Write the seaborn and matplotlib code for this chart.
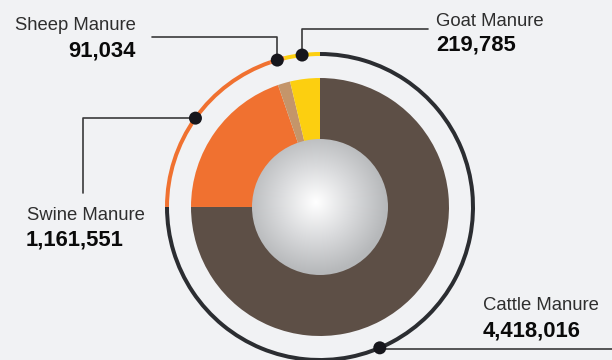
import numpy as np
import matplotlib
matplotlib.use("Agg")
import matplotlib.pyplot as plt
import seaborn as sns
from matplotlib.patches import Wedge, Circle
from matplotlib.colors import LinearSegmentedColormap
from matplotlib import font_manager

# --- data ---
categories = ["Cattle Manure", "Swine Manure", "Sheep Manure", "Goat Manure"]
values = [4418016, 1161551, 91034, 219785]
value_labels = ["4,418,016", "1,161,551", "91,034", "219,785"]

# --- style ---
BG = "#f1f2f4"
PALETTE = {
    "Cattle Manure": "#5d4f46",
    "Swine Manure": "#f07130",
    "Sheep Manure": "#c4956a",
    "Goat Manure": "#fccf10",
}
RING = {
    "Cattle Manure": "#2b2d31",
    "Swine Manure": "#f07130",
    "Sheep Manure": "#f07130",
    "Goat Manure": "#fccf10",
}

sns.set_style("white")
names = {f.name for f in font_manager.fontManager.ttflist}
FONT = "Liberation Sans Narrow" if "Liberation Sans Narrow" in names else "Liberation Sans"
plt.rcParams["font.family"] = [FONT, "DejaVu Sans"]

fig = plt.figure(figsize=(6.12, 3.6), dpi=100, facecolor=BG)
ax = fig.add_axes([0, 0, 1, 1])
ax.set_facecolor(BG)

cx, cy = 320, 153
R_PIE, R_HOLE, R_RING = 129, 68, 153

colors = [PALETTE[c] for c in categories]
ax.pie(values, colors=colors, startangle=90, counterclock=False,
       center=(cx, cy), radius=R_PIE, frame=True,
       wedgeprops=dict(linewidth=0))
ax.set_xlim(0, 612)
ax.set_ylim(0, 360)
ax.set_aspect("equal")
ax.axis("off")

# gradient sphere in the middle
n = 400
xs = np.linspace(-1, 1, n)
X, Y = np.meshgrid(xs, xs)
d = np.sqrt((X + 0.06) ** 2 + (Y + 0.07) ** 2)
img = np.clip(d / 1.05, 0, 1)
cmap = LinearSegmentedColormap.from_list("sph", ["#ffffff", "#dadbdd", "#b6b8ba"])
im = ax.imshow(img, cmap=cmap, extent=(cx - R_HOLE, cx + R_HOLE, cy - R_HOLE, cy + R_HOLE),
               origin="upper", zorder=3, interpolation="bilinear")
im.set_clip_path(Circle((cx, cy), R_HOLE, transform=ax.transData))

# outer ring segments, following the slices
total = float(sum(values))
start = 90.0
mids = {}
for cat, v in zip(categories, values):
    span = 360.0 * v / total
    end = start - span
    ax.add_patch(Wedge((cx, cy), R_RING + 2, end, start, width=4,
                       facecolor=RING[cat], edgecolor="none", zorder=2))
    mids[cat] = (start + end) / 2
    start = end

# cattle marker sits lower right rather than at the slice middle
mids["Cattle Manure"] = -67

LINE = "#3a3a3a"
def dot(ang):
    a = np.deg2rad(ang)
    x, y = cx + R_RING * np.cos(a), cy + R_RING * np.sin(a)
    ax.add_patch(Circle((x, y), 6.5, facecolor="#16161c", edgecolor="none", zorder=5))
    return x, y

# Sheep
x, y = dot(mids["Sheep Manure"])
ax.plot([x, x, 152], [y, 323, 323], color=LINE, lw=1.2, zorder=4)
# Goat
x, y = dot(mids["Goat Manure"])
ax.plot([x, x, 428], [y, 331, 331], color=LINE, lw=1.2, zorder=4)
# Swine
x, y = dot(mids["Swine Manure"])
ax.plot([x, 83, 83], [y, y, 167], color=LINE, lw=1.2, zorder=4)
# Cattle
x, y = dot(mids["Cattle Manure"])
ax.plot([x, 612], [y - 1, y - 1], color=LINE, lw=1.2, zorder=4)

NAME_KW = dict(fontsize=13.3, color="#2e2e2e", va="center")
VAL_KW = dict(fontsize=15.8, color="#0a0a0a", fontweight="bold", va="center")

ax.text(136, 360 - 25, categories[2], ha="right", **NAME_KW)
ax.text(136, 360 - 51, value_labels[2], ha="right", **VAL_KW)

ax.text(436, 360 - 21, categories[3], ha="left", **NAME_KW)
ax.text(436, 360 - 45, value_labels[3], ha="left", **VAL_KW)

ax.text(27, 360 - 215, categories[1], ha="left", **NAME_KW)
ax.text(26, 360 - 240, value_labels[1], ha="left", **VAL_KW)

ax.text(483, 360 - 306, categories[0], ha="left", **NAME_KW)
ax.text(483, 360 - 331, value_labels[0], ha="left", **VAL_KW)

fig.savefig("out.png", dpi=100, facecolor=BG)
